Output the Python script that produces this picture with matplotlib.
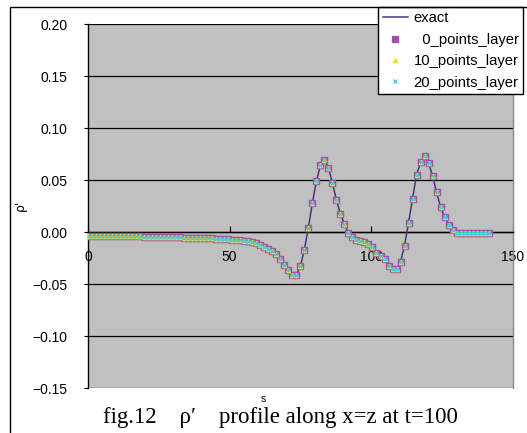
import numpy as np
import matplotlib
matplotlib.use("Agg")
import matplotlib.pyplot as plt
from matplotlib.patches import Rectangle

# ---- data ----
n_points = 101
ds = np.sqrt(2.0)
s_values = [i * ds for i in range(n_points)]

rho_exact = [
    -0.0040, -0.0040, -0.0040, -0.0040, -0.0040, -0.0040, -0.0040, -0.0040, -0.0040, -0.0040,
    -0.0042, -0.0042, -0.0043, -0.0043, -0.0044, -0.0045, -0.0046, -0.0047, -0.0048, -0.0049,
    -0.0050, -0.0050, -0.0051, -0.0052, -0.0053, -0.0054, -0.0055, -0.0056, -0.0057, -0.0058,
    -0.0060, -0.0062, -0.0064, -0.0066, -0.0068, -0.0070, -0.0073, -0.0076, -0.0080, -0.0085,
    -0.0090, -0.0100, -0.0110, -0.0125, -0.0140, -0.0160, -0.0180, -0.0210, -0.0260, -0.0320,
    -0.0370, -0.0410, -0.0410, -0.0330, -0.0170, 0.0040, 0.0280, 0.0490, 0.0640, 0.0690,
    0.0620, 0.0470, 0.0310, 0.0170, 0.0080, -0.0010, -0.0050, -0.0080, -0.0090, -0.0100,
    -0.0115, -0.0140, -0.0200, -0.0230, -0.0260, -0.0330, -0.0360, -0.0360, -0.0290, -0.0130,
    0.0090, 0.0320, 0.0550, 0.0670, 0.0730, 0.0660, 0.0540, 0.0380, 0.0240, 0.0140,
    0.0070, 0.0020, -0.0010, -0.0010, -0.0010, -0.0010, -0.0010, -0.0010, -0.0010, -0.0010,
    -0.0010,
]
rho_0_points = list(rho_exact)
rho_10_points = list(rho_exact)
rho_20_points = list(rho_exact)

series_labels = ["exact", "  0_points_layer", "10_points_layer", "20_points_layer"]
x_ticks = [0, 50, 100, 150]
y_ticks = [-0.15, -0.10, -0.05, 0.00, 0.05, 0.10, 0.15, 0.20]
caption = "fig.12\u2003\u03c1\u2032\u2003profile along x=z at t=100"

# ---- figure ----
W, H = 527, 433
fig = plt.figure(figsize=(W / 100, H / 100), dpi=100)
fig.patch.set_facecolor("white")

# outer chart frame
fig.add_artist(Rectangle((10 / W, -0.02), 1.05, 1 - 7 / H + 0.02,
                         transform=fig.transFigure, fill=False,
                         edgecolor="black", lw=1.0))

ax = fig.add_axes([88 / W, 1 - 388 / H, 425 / W, 364 / H])
ax.set_facecolor("#c0c0c0")

ax.plot(s_values, rho_exact, color="#3c3c78", lw=1.1, label=series_labels[0], zorder=3)
ax.plot(s_values, rho_0_points, ls="none", marker="s", ms=4.2, mfc="#a452a8",
        mec="#a452a8", label=series_labels[1], zorder=4)
ax.plot(s_values, rho_10_points, ls="none", marker="^", ms=3.0, mfc="#e8e23c",
        mec="#e8e23c", label=series_labels[2], zorder=5)
ax.plot(s_values, rho_20_points, ls="none", marker="x", ms=3.0, mew=0.9,
        color="#46c8dc", label=series_labels[3], zorder=6)

ax.set_xlim(0, 150)
ax.set_ylim(-0.15, 0.20)
ax.set_yticks(y_ticks)
ax.set_yticklabels([f"{v:.2f}".replace("-", "\u2212") for v in y_ticks])
ax.set_xticks(x_ticks)
ax.set_xticklabels([str(v) for v in x_ticks])

for v in y_ticks:
    ax.axhline(v, color="black", lw=0.9, zorder=1)

ax.spines["bottom"].set_position(("data", 0))
ax.spines["bottom"].set_color("black")
ax.spines["bottom"].set_linewidth(1.0)
ax.spines["left"].set_color("black")
ax.spines["left"].set_linewidth(1.0)
ax.spines["top"].set_visible(False)
ax.spines["right"].set_color("#888888")
ax.spines["right"].set_linewidth(1.0)

ax.tick_params(axis="x", direction="in", length=4, width=0.8, pad=13,
               labelsize=10, colors="black")
ax.tick_params(axis="y", direction="out", length=3, width=0.8, pad=12,
               labelsize=10)
for lab in ax.get_xticklabels() + ax.get_yticklabels():
    lab.set_fontfamily("Liberation Sans")

# legend
leg = ax.legend(loc="upper right", bbox_to_anchor=(523 / W, 1 - 7 / H),
                bbox_transform=fig.transFigure, frameon=True, fancybox=False,
                edgecolor="black", framealpha=1.0, borderaxespad=0,
                prop={"family": "Liberation Sans", "size": 10.6},
                handlelength=1.7, handletextpad=0.4, labelspacing=0.5,
                borderpad=0.3)
leg.get_frame().set_linewidth(1.0)

# axis labels
fig.text(20 / W, 1 - 205 / H, "\u03c1'", rotation=90, ha="center", va="center",
         fontsize=9, family="DejaVu Sans")
fig.text(263 / W, 1 - 399 / H, "s", ha="center", va="center", fontsize=7.5,
         family="Liberation Sans")
fig.text(280 / W, 1 - 417 / H, caption, ha="center", va="center", fontsize=16.5,
         family="Liberation Serif")

fig.savefig("out.png", dpi=100)
